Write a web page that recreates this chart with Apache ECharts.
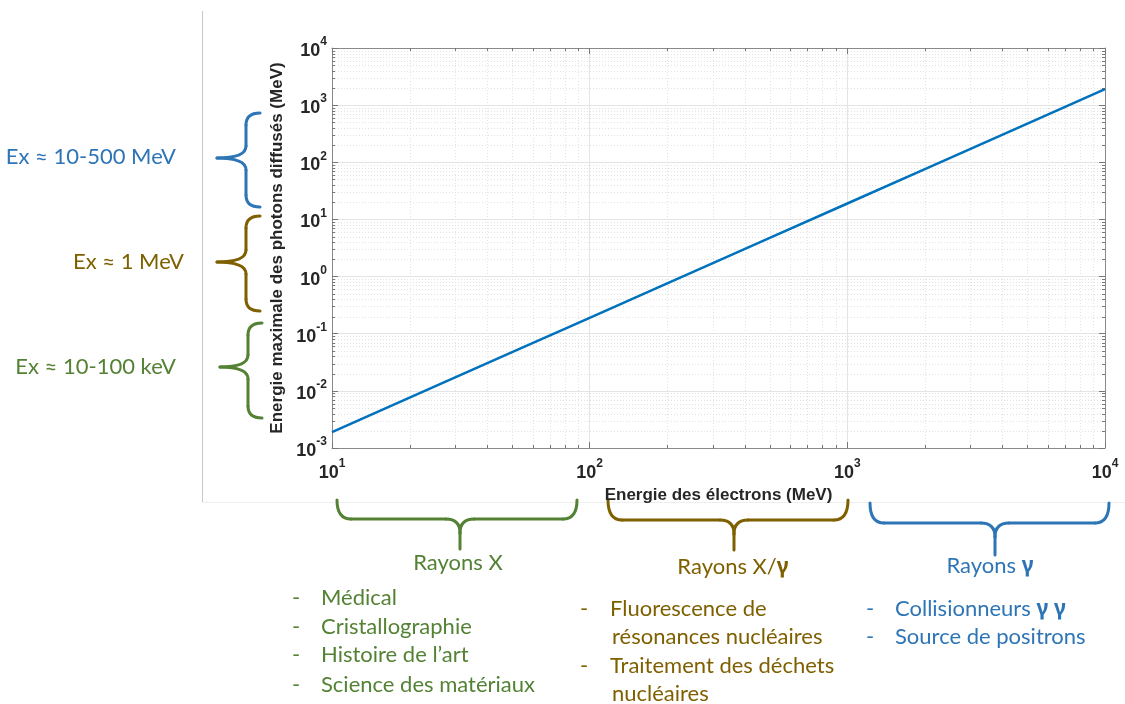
<!DOCTYPE html>
<html>
<head>
<meta charset="utf-8">
<script src="https://cdn.jsdelivr.net/npm/echarts@6/dist/echarts.min.js"></script>
<style>
  html, body { margin: 0; padding: 0; background: #fff; }
  #chart { width: 1125px; height: 704px; }
</style>
</head>
<body>
<div id="chart"></div>
<script>
// energie des electrons (MeV) / energie max des photons diffuses (MeV)
const electronEnergy = [10, 20, 50, 100, 200, 500, 1000, 2000, 5000, 10000];
const photonEnergy = [0.0019, 0.0076, 0.0475, 0.19, 0.76, 4.75, 19, 76, 475, 1900];

// axes
const xRange = [10, 10000];
const yRange = [0.001, 10000];

// minor ticks (2..9 x 10^n)
const xMinor = [];
const yMinor = [];
for (let d = 1; d < 4; d++) {
  for (let k = 2; k < 10; k++) xMinor.push([k * Math.pow(10, d), 1]);
}
for (let d = -3; d < 4; d++) {
  for (let k = 2; k < 10; k++) yMinor.push([100, k * Math.pow(10, d)]);
}

const BLUE = '#2E75B6';
const GOLD = '#7F6000';
const GREEN = '#548235';
const TXT_FONT = '22px Lato, "Open Sans", sans-serif';

const leftLabels = [
  { text: 'Ex ≈ 10-500 MeV', x: 176, y: 157, color: BLUE },
  { text: 'Ex ≈ 1 MeV', x: 184, y: 262, color: GOLD },
  { text: 'Ex ≈ 10-100 keV', x: 176, y: 367, color: GREEN }
];
const bandTitles = [
  { text: 'Rayons X', x: 458, y: 563, color: GREEN },
  { text: 'Rayons X/{g|γ}', x: 733, y: 567, color: GOLD },
  { text: 'Rayons {g|γ}', x: 990, y: 566, color: BLUE }
];
// [texte, tiret?, y]
const greenItems = [['Médical', 1, 598], ['Cristallographie', 1, 627], ['Histoire de l’art', 1, 655], ['Science des matériaux', 1, 685]];
const goldItems = [['Fluorescence de', 1, 609], ['résonances nucléaires', 0, 637], ['Traitement des déchets', 1, 666], ['nucléaires', 0, 694]];
const blueItems = [['Collisionneurs {g|γ} {g|γ}', 1, 609], ['Source de positrons', 1, 637]];

function seg(x1, y1, x2, y2, color) {
  return { type: 'line', shape: { x1, y1, x2, y2 }, style: { stroke: color, lineWidth: 3, lineCap: 'round' } };
}
function curve(x1, y1, cx, cy, x2, y2, color) {
  return { type: 'bezierCurve', shape: { x1, y1, x2, y2, cpx1: cx, cpy1: cy }, style: { stroke: color, lineWidth: 3, fill: null, lineCap: 'round' } };
}
// accolade verticale ouverte vers la gauche
function vBrace(xEnd, xSpine, xTip, y0, y1, yTip, color) {
  const r = 12;
  return { type: 'group', children: [
    curve(xEnd, y0, xSpine, y0, xSpine, y0 + r, color),
    seg(xSpine, y0 + r, xSpine, yTip - r, color),
    curve(xSpine, yTip - r, xSpine, yTip, xTip, yTip, color),
    curve(xTip, yTip, xSpine, yTip, xSpine, yTip + r, color),
    seg(xSpine, yTip + r, xSpine, y1 - r, color),
    curve(xSpine, y1 - r, xSpine, y1, xEnd, y1, color)
  ] };
}
// accolade horizontale ouverte vers le bas
function hBrace(x0, x1, xTip, yEnd, ySpine, yTip, color) {
  const r = 14;
  return { type: 'group', children: [
    curve(x0, yEnd, x0, ySpine, x0 + r, ySpine, color),
    seg(x0 + r, ySpine, xTip - r, ySpine, color),
    curve(xTip - r, ySpine, xTip, ySpine, xTip, ySpine + r, color),
    curve(xTip + r, ySpine, xTip, ySpine, xTip, ySpine + r, color),
    seg(xTip, ySpine + r, xTip, yTip, color),
    seg(xTip + r, ySpine, x1 - r, ySpine, color),
    curve(x1 - r, ySpine, x1, ySpine, x1, yEnd, color)
  ] };
}

function txt(text, x, y, color, align) {
  return {
    type: 'text', x: x, y: y,
    style: {
      text: text, fill: color, font: TXT_FONT,
      textAlign: align || 'left', textVerticalAlign: 'middle',
      rich: { g: { fontFamily: '"Noto Sans"', fontWeight: 'bold', fontSize: 21, fill: color } }
    }
  };
}

const graphics = [
  { type: 'line', shape: { x1: 202.5, y1: 11, x2: 202.5, y2: 502 }, style: { stroke: '#c8c8c8', lineWidth: 1 } },
  { type: 'line', shape: { x1: 202, y1: 502.5, x2: 1125, y2: 502.5 }, style: { stroke: '#eeeeee', lineWidth: 1 } },
  vBrace(260, 246, 217, 113, 207, 158, BLUE),
  vBrace(260, 246, 217, 216, 311, 262, GOLD),
  vBrace(262, 248, 220, 323, 418, 367, GREEN),
  hBrace(337, 577, 460, 500, 519, 549, GREEN),
  hBrace(608, 848, 734, 500, 520, 550, GOLD),
  hBrace(870, 1109, 995, 503, 523, 555, BLUE)
];
leftLabels.forEach(l => graphics.push(txt(l.text, l.x, l.y, l.color, 'right')));
bandTitles.forEach(l => graphics.push(txt(l.text, l.x, l.y, l.color, 'center')));
[[greenItems, 296, 321, GREEN], [goldItems, 584, 610, GOLD], [blueItems, 870, 895, BLUE]].forEach(([items, dx, tx, col]) => {
  items.forEach(it => {
    if (it[1]) graphics.push(txt('-', dx, it[2], col, 'center'));
    graphics.push(txt(it[0], tx + (it[1] ? 0 : 2), it[2], col, 'left'));
  });
});

const chart = echarts.init(document.getElementById('chart'));

const tickLabel = {
  fontFamily: '"Liberation Sans", Arial, sans-serif',
  formatter: v => '{b|10}{s|' + Math.round(Math.log10(v)) + '}',
  rich: {
    b: { fontSize: 18, fontWeight: 'bold', color: '#262626', lineHeight: 24, verticalAlign: 'bottom' },
    s: { fontSize: 12, fontWeight: 'bold', color: '#262626', lineHeight: 10, verticalAlign: 'top' }
  }
};
const nameStyle = { fontFamily: '"Liberation Sans", Arial, sans-serif', fontWeight: 'bold', fontSize: 17, color: '#262626' };

chart.setOption({
  animation: false,
  grid: { left: 332, top: 48, width: 773, height: 400 },
  xAxis: [{
    type: 'log', logBase: 10, min: xRange[0], max: xRange[1],
    name: 'Energie des électrons (MeV)', nameLocation: 'middle', nameGap: 37,
    nameTextStyle: nameStyle,
    axisLine: { show: true, lineStyle: { color: '#8a8a8a', width: 1 } },
    axisTick: { show: true, inside: true, length: 6, lineStyle: { color: '#777' } },
    axisLabel: Object.assign({ margin: 10 }, tickLabel),
    splitLine: { show: true, lineStyle: { color: '#e4e4e4', width: 1 } }
  }, {
    type: 'log', logBase: 10, min: xRange[0], max: xRange[1], position: 'top',
    axisLine: { show: true, onZero: false, lineStyle: { color: '#8a8a8a', width: 1 } },
    axisTick: { show: true, inside: true, length: 6, lineStyle: { color: '#777' } },
    axisLabel: { show: false }, splitLine: { show: false }
  }],
  yAxis: [{
    type: 'log', logBase: 10, min: yRange[0], max: yRange[1],
    name: 'Energie maximale des photons diffusés (MeV)', nameLocation: 'middle', nameGap: 41, nameRotate: 90,
    nameTextStyle: nameStyle,
    axisLine: { show: true, lineStyle: { color: '#8a8a8a', width: 1 } },
    axisTick: { show: true, inside: true, length: 6, lineStyle: { color: '#777' } },
    axisLabel: Object.assign({ margin: 5 }, tickLabel),
    splitLine: { show: true, lineStyle: { color: '#e4e4e4', width: 1 } }
  }, {
    type: 'log', logBase: 10, min: yRange[0], max: yRange[1], position: 'right',
    axisLine: { show: true, onZero: false, lineStyle: { color: '#8a8a8a', width: 1 } },
    axisTick: { show: true, inside: true, length: 6, lineStyle: { color: '#777' } },
    axisLabel: { show: false }, splitLine: { show: false }
  }],
  graphic: graphics,
  series: [{
    type: 'custom', silent: true, z: 1, xAxisIndex: 0, yAxisIndex: 0, data: xMinor,
    renderItem: (params, api) => {
      const cs = params.coordSys;
      const px = Math.round(api.coord([api.value(0), 1])[0]) + 0.5;
      return { type: 'group', children: [
        { type: 'line', shape: { x1: px, y1: cs.y, x2: px, y2: cs.y + cs.height }, style: { stroke: '#e2e2e2', lineWidth: 1, lineDash: [1, 2] } },
        { type: 'line', shape: { x1: px, y1: cs.y + cs.height, x2: px, y2: cs.y + cs.height - 3 }, style: { stroke: '#777', lineWidth: 1 } },
        { type: 'line', shape: { x1: px, y1: cs.y, x2: px, y2: cs.y + 3 }, style: { stroke: '#777', lineWidth: 1 } }
      ] };
    }
  }, {
    type: 'custom', silent: true, z: 1, xAxisIndex: 0, yAxisIndex: 0, data: yMinor,
    renderItem: (params, api) => {
      const cs = params.coordSys;
      const py = Math.round(api.coord([100, api.value(1)])[1]) + 0.5;
      return { type: 'group', children: [
        { type: 'line', shape: { x1: cs.x, y1: py, x2: cs.x + cs.width, y2: py }, style: { stroke: '#e2e2e2', lineWidth: 1, lineDash: [1, 2] } },
        { type: 'line', shape: { x1: cs.x, y1: py, x2: cs.x + 3, y2: py }, style: { stroke: '#777', lineWidth: 1 } },
        { type: 'line', shape: { x1: cs.x + cs.width, y1: py, x2: cs.x + cs.width - 3, y2: py }, style: { stroke: '#777', lineWidth: 1 } }
      ] };
    }
  }, {
    type: 'line', z: 5,
    data: electronEnergy.map((x, i) => [x, photonEnergy[i]]),
    showSymbol: false, symbol: 'none',
    lineStyle: { color: '#0072BD', width: 2.5 }
  }]
});
</script>
</body>
</html>
